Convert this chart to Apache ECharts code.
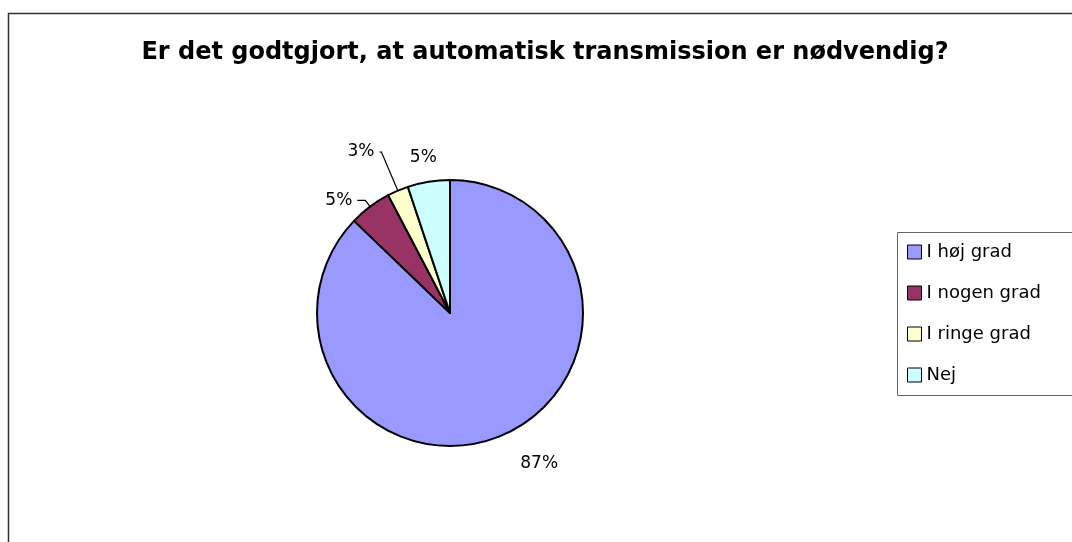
<!DOCTYPE html>
<html>
<head>
<meta charset="utf-8">
<title>Automatisk transmission</title>
<script src="https://cdn.jsdelivr.net/npm/echarts@6/dist/echarts.min.js"></script>
<style>
  html, body { margin: 0; padding: 0; background: #fff; }
  #chart { width: 1072px; height: 542px; }
</style>
</head>
<body>
<div id="chart"></div>
<script>
var chartTitle = 'Er det godtgjort, at automatisk transmission er nødvendig?';
var categories = ['I høj grad', 'I nogen grad', 'I ringe grad', 'Nej'];
var answers = [34, 2, 1, 2];
var sliceColors = ['#9999FF', '#993366', '#FFFFCC', '#CCFFFF'];

// leader lines like the old excel chart, only two of them are drawn
var lineLen = [31, 8, 42, 24];
var lineLen2 = [1, 8, 2, 0];
var showLine = [false, true, true, false];
var labelShift = [0, 0, 0, 17];

var myChart = echarts.init(document.getElementById('chart'));

var pieData = categories.map(function (name, i) {
  return {
    name: name,
    value: answers[i],
    itemStyle: { color: sliceColors[i] },
    labelLine: { show: showLine[i], length: lineLen[i], length2: lineLen2[i] }
  };
});

var option = {
  animation: false,
  backgroundColor: '#fff',
  title: {
    text: chartTitle,
    left: 540,
    top: 36,
    textAlign: 'center',
    textStyle: {
      fontFamily: 'DejaVu Sans',
      fontWeight: 'bold',
      fontSize: 24,
      color: '#000'
    }
  },
  graphic: [
    {
      type: 'rect',
      z: -10,
      shape: { x: 8.5, y: 13.5, width: 1200, height: 700 },
      style: { fill: 'none', stroke: '#333', lineWidth: 1.5 }
    },
    {
      type: 'rect',
      z: -10,
      shape: { x: 897.5, y: 232.5, width: 300, height: 163 },
      style: { fill: 'none', stroke: '#666', lineWidth: 1 }
    }
  ],
  legend: {
    orient: 'vertical',
    left: 907,
    top: 243,
    padding: 0,
    icon: 'rect',
    itemWidth: 14,
    itemHeight: 14,
    itemGap: 23,
    selectedMode: false,
    itemStyle: { borderColor: '#000', borderWidth: 1 },
    textStyle: { fontFamily: 'DejaVu Sans', fontSize: 18, color: '#000' },
    data: categories
  },
  series: [
    {
      name: 'Svar',
      type: 'pie',
      center: [450, 313],
      radius: 133,
      startAngle: 90,
      clockwise: true,
      avoidLabelOverlap: false,
      emphasis: { disabled: true },
      itemStyle: { borderColor: '#000', borderWidth: 2 },
      label: {
        show: true,
        position: 'outside',
        fontFamily: 'DejaVu Sans',
        fontSize: 17,
        color: '#000',
        formatter: function (p) {
          return Math.round(p.percent) + '%';
        }
      },
      labelLine: {
        lineStyle: { color: '#000', width: 1.2 }
      },
      labelLayout: function (params) {
        return { dx: labelShift[params.dataIndex] };
      },
      data: pieData
    }
  ]
};

myChart.setOption(option);
</script>
</body>
</html>
